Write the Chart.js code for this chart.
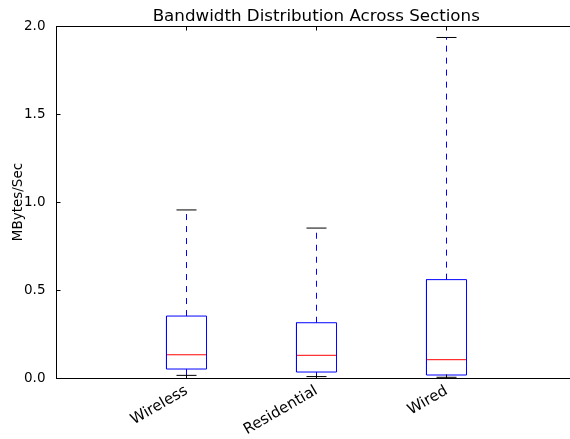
<!DOCTYPE html>
<html>
<head>
<meta charset="utf-8">
<script src="https://cdn.jsdelivr.net/npm/chart.js@4/dist/chart.umd.min.js"></script>
<style>
  html, body { margin: 0; padding: 0; background: #fff; overflow: hidden; }
  canvas { display: block; }
</style>
</head>
<body>
<canvas id="chart" width="576" height="439"></canvas>
<script>
// data
const sections = ['Wireless', 'Residential', 'Wired']
const positions = [1, 2, 3]
const whiskerLow = [0.015, 0.008, 0.004]
const q1 = [0.051, 0.034, 0.017]
const median = [0.132, 0.129, 0.104]
const q3 = [0.352, 0.314, 0.559]
const whiskerHigh = [0.955, 0.852, 1.935]
const yTicks = [0, 0.5, 1.0, 1.5, 2.0]

const boxWidth = 0.308
const capWidth = 0.154

function seg(color, pts, dash) {
    return {
        type: 'scatter',
        data: pts,
        showLine: true,
        borderColor: color,
        borderWidth: 1,
        borderDash: dash || [],
        pointRadius: 0,
        fill: false
    }
}

const datasets = []
positions.forEach((p, i) => {
    const h = boxWidth / 2
    const c = capWidth / 2
    //whiskers (dashed)
    datasets.push(seg('#0000ff', [{x: p, y: q3[i]}, {x: p, y: whiskerHigh[i]}], [6, 6]))
    datasets.push(seg('#0000ff', [{x: p, y: q1[i]}, {x: p, y: whiskerLow[i]}], [6, 6]))
    //box
    datasets.push(seg('#0000ff', [
        {x: p - h, y: q1[i]}, {x: p + h, y: q1[i]}, {x: p + h, y: q3[i]},
        {x: p - h, y: q3[i]}, {x: p - h, y: q1[i]}
    ]))
    //median
    datasets.push(seg('#ff0000', [{x: p - h, y: median[i]}, {x: p + h, y: median[i]}]))
    //caps
    datasets.push(seg('#000000', [{x: p - c, y: whiskerHigh[i]}, {x: p + c, y: whiskerHigh[i]}]))
    datasets.push(seg('#000000', [{x: p - c, y: whiskerLow[i]}, {x: p + c, y: whiskerLow[i]}]))
})

// frame + inward ticks like matplotlib classic
const framePlugin = {
    id: 'frame',
    afterDraw(chart) {
        const ctx = chart.ctx
        const a = chart.chartArea
        const xs = chart.scales.x
        const ys = chart.scales.y
        const l = Math.floor(a.left) + 0.5
        const t = Math.floor(a.top) + 0.5
        const b = Math.floor(a.bottom) + 0.5
        const r = Math.floor(a.right) - 0.5
        ctx.save()
        ctx.strokeStyle = '#000'
        ctx.lineWidth = 1
        ctx.strokeRect(l, t, r - l, b - t)
        ctx.beginPath()
        xs.ticks.forEach(tk => {
            const px = Math.floor(xs.getPixelForValue(tk.value)) + 0.5
            ctx.moveTo(px, t); ctx.lineTo(px, t + 4)
            ctx.moveTo(px, b); ctx.lineTo(px, b - 4)
        })
        ys.ticks.forEach(tk => {
            const py = Math.floor(ys.getPixelForValue(tk.value)) + 0.5
            ctx.moveTo(l, py); ctx.lineTo(l + 4, py)
            ctx.moveTo(r, py); ctx.lineTo(r - 4, py)
        })
        ctx.stroke()
        ctx.restore()
    }
}

new Chart(document.getElementById('chart'), {
    type: 'scatter',
    data: { datasets: datasets },
    options: {
        responsive: false,
        animation: false,
        devicePixelRatio: 1,
        layout: { padding: 0 },
        plugins: {
            legend: { display: false },
            tooltip: { enabled: false },
            title: {
                display: true,
                fullSize: false,
                text: 'Bandwidth Distribution Across Sections',
                color: '#000',
                font: { family: 'DejaVu Sans', size: 16.7, weight: 'normal' },
                padding: { top: 7, bottom: -1 }
            }
        },
        scales: {
            x: {
                type: 'linear',
                min: 0,
                max: 4 - 0.5 / 130,
                grid: { display: false },
                border: { display: false },
                afterBuildTicks: s => { s.ticks = positions.map(v => ({ value: v })) },
                afterFit: s => { s.height = 61 },
                ticks: {
                    color: '#000',
                    font: { family: 'DejaVu Sans', size: 15 },
                    minRotation: 30,
                    maxRotation: 30,
                    padding: -4,
                    callback: v => sections[positions.indexOf(v)]
                }
            },
            y: {
                type: 'linear',
                min: 0,
                max: 2,
                grid: { display: false },
                border: { display: false },
                afterBuildTicks: s => { s.ticks = yTicks.map(v => ({ value: v })) },
                afterFit: s => { s.width = 56.5 },
                ticks: {
                    color: '#000',
                    font: { family: 'DejaVu Sans', size: 13.5 },
                    padding: 3,
                    callback: v => v.toFixed(1)
                },
                title: {
                    display: true,
                    text: 'MBytes/Sec',
                    color: '#000',
                    font: { family: 'DejaVu Sans', size: 13.5 },
                    padding: { top: 10, bottom: 0 }
                }
            }
        }
    },
    plugins: [framePlugin]
})
</script>
</body>
</html>
